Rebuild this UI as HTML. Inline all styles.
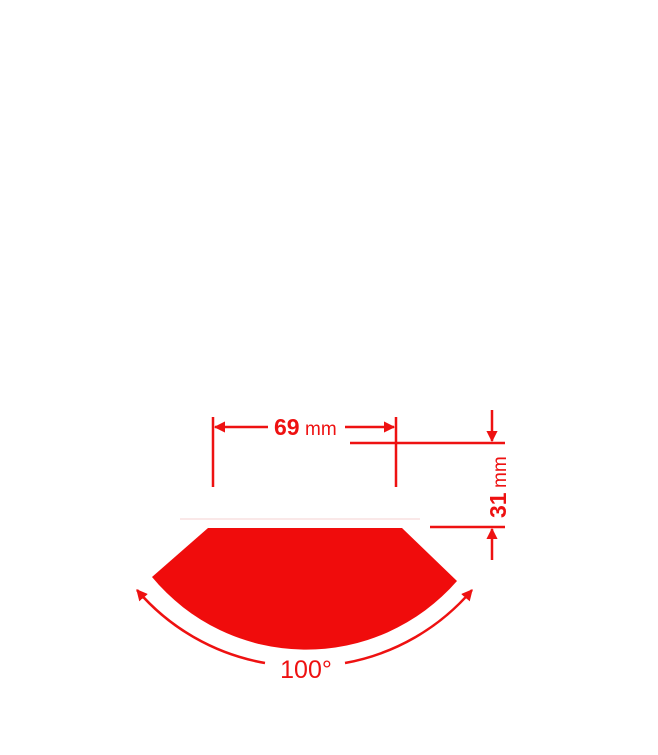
<!DOCTYPE html>
<html><head><style>html,body{margin:0;padding:0;background:#fff}</style></head>
<body>
<svg width="658" height="750" viewBox="0 0 658 750" xmlns="http://www.w3.org/2000/svg">
<defs>
<marker id="a" viewBox="0 0 10 10" refX="9" refY="5" markerWidth="4.5" markerHeight="4.5" orient="auto-start-reverse">
<path d="M0,0 L10,5 L0,10 z" fill="#ee1111"/></marker>
</defs>
<path d="M208,528 L402,528 L457,581 A200,200 0 0 1 152,577 Z" fill="#f00c0c"/>
<line x1="180" y1="519" x2="420" y2="519" stroke="#f6d0d0" stroke-width="1"/>
<g stroke="#ee1111" stroke-width="2.5" fill="none">
<line x1="213" y1="417" x2="213" y2="487"/>
<line x1="396" y1="417" x2="396" y2="487"/>
<line x1="268" y1="427" x2="215" y2="427" marker-end="url(#a)"/>
<line x1="345" y1="427" x2="394" y2="427" marker-end="url(#a)"/>
<line x1="350" y1="443" x2="505" y2="443"/>
<line x1="430" y1="527" x2="505" y2="527"/>
<line x1="492" y1="410" x2="492" y2="441" marker-end="url(#a)"/>
<line x1="492" y1="560" x2="492" y2="529" marker-end="url(#a)"/>
<path d="M265,663 A218,218 0 0 1 137,590" marker-end="url(#a)"/>
<path d="M345,663 A218,218 0 0 0 472,590" marker-end="url(#a)"/>
</g>
<text x="274" y="435" font-family="Liberation Sans, sans-serif" font-weight="bold" font-size="23" fill="#ee1111">69</text>
<text x="305" y="435" font-family="Liberation Sans, sans-serif" font-size="19" fill="#ee1111">mm</text>
<g transform="translate(506,518) rotate(-90)">
<text x="0" y="0" font-family="Liberation Sans, sans-serif" font-weight="bold" font-size="23" fill="#ee1111">31</text>
<text x="30" y="0" font-family="Liberation Sans, sans-serif" font-size="19" fill="#ee1111">mm</text>
</g>
<text x="306" y="678" text-anchor="middle" font-family="Liberation Sans, sans-serif" font-size="25" fill="#ee1111">100°</text>
</svg>
</body></html>
